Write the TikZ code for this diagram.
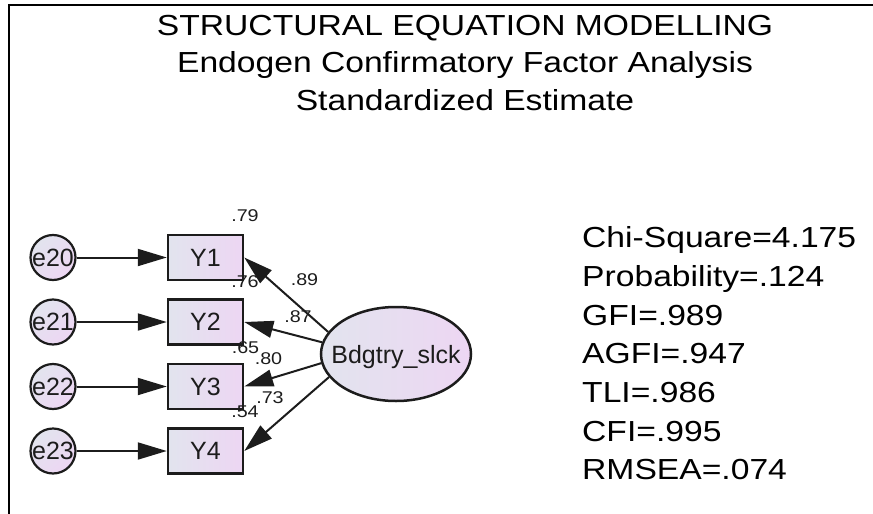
\documentclass[tikz,border=0pt]{standalone}
\usepackage{fontspec}
\setmainfont{Liberation Sans}
\newfontfamily\widefont[FakeStretch=1.16]{Liberation Sans}
\usetikzlibrary{arrows.meta,shapes.geometric}
\definecolor{fillL}{HTML}{E2E4EE}
\definecolor{fillR}{HTML}{EDD6F3}
\definecolor{ink}{HTML}{1C1C1C}
\tikzset{
  errc/.style={circle, draw=ink, line width=2.2pt, minimum size=45pt, inner sep=0pt,
    shading=axis, left color=fillL, right color=fillR, shading angle=45,
    font=\fontsize{25}{30}\selectfont, text=ink},
  obsbox/.style={rectangle, draw=ink, line width=2.5pt, minimum width=75pt, minimum height=45pt,
    inner sep=0pt, left color=fillL, right color=fillR, font=\fontsize{25}{30}\selectfont, text=ink},
  latent/.style={ellipse, draw=ink, line width=2.5pt, minimum width=150pt, minimum height=94pt,
    inner sep=0pt, text depth=0pt, left color=fillL, right color=fillR,
    font=\fontsize{25}{30}\selectfont, text=ink},
  path/.style={draw=ink, line width=2pt, -{Triangle[length=29pt,width=17pt]}},
  est/.style={inner sep=0pt, font=\widefont\fontsize{17}{20}\selectfont, text=ink},
  titleline/.style={anchor=base, inner sep=0pt, font=\widefont\fontsize{29}{34}\selectfont},
  fitline/.style={anchor=base west, inner sep=0pt, font=\widefont\fontsize{29}{34}\selectfont},
}
\begin{document}
\begin{tikzpicture}[x=1pt,y=-1pt]
\useasboundingbox (0,0) rectangle (873,514);
% frame
\draw[line width=2.2pt] (9,514) -- (9,5) -- (873,5);

% title
\node[titleline] (t1) at (465,35) {STRUCTURAL EQUATION MODELLING};
\node[titleline] (t2) at (465,72) {Endogen Confirmatory Factor Analysis};
\node[titleline] (t3) at (465,110) {Standardized Estimate};

% latent factor
\node[latent] (bd) at (396,354) {\makebox[0pt]{Bdgtry\_slck}};

% indicators with their error terms
\foreach \i/\e/\yy in {1/20/257.5, 2/21/322, 3/22/386.5, 4/23/451}{
  \node[errc] (e\e) at (53,\yy) {\makebox[0pt]{e\e}};
  \node[obsbox] (y\i) at (205.5,\yy) {Y\i};
  \draw[path] (e\e) -- (y\i);
}

% loadings
\draw[path] (bd.162.5) -- (y1.east);
\draw[path] (bd.171.5) -- (y2.east);
\draw[path] (bd.187) -- (y3.east);
\draw[path] (bd.199.5) -- (y4.east);

% squared multiple correlations
\node[est] (r1) at (245,216) {.79};
\node[est] (r2) at (245,282) {.76};
\node[est] (r3) at (245.5,347.5) {.65};
\node[est] (r4) at (245,412) {.54};
% standardized loadings
\node[est] (l1) at (304.5,280) {.89};
\node[est] (l2) at (298,317) {.87};
\node[est] (l3) at (268.5,358.5) {.80};
\node[est] (l4) at (270,398) {.73};

% fit indices
\foreach \k/\txt/\yy in {1/Chi-Square=4.175/247, 2/Probability=.124/286, 3/GFI=.989/325,
  4/AGFI=.947/363.5, 5/TLI=.986/402, 6/CFI=.995/441, 7/RMSEA=.074/479.5}{
  \node[fitline] (fit\k) at (582,\yy) {\txt};
}
\end{tikzpicture}
\end{document}
